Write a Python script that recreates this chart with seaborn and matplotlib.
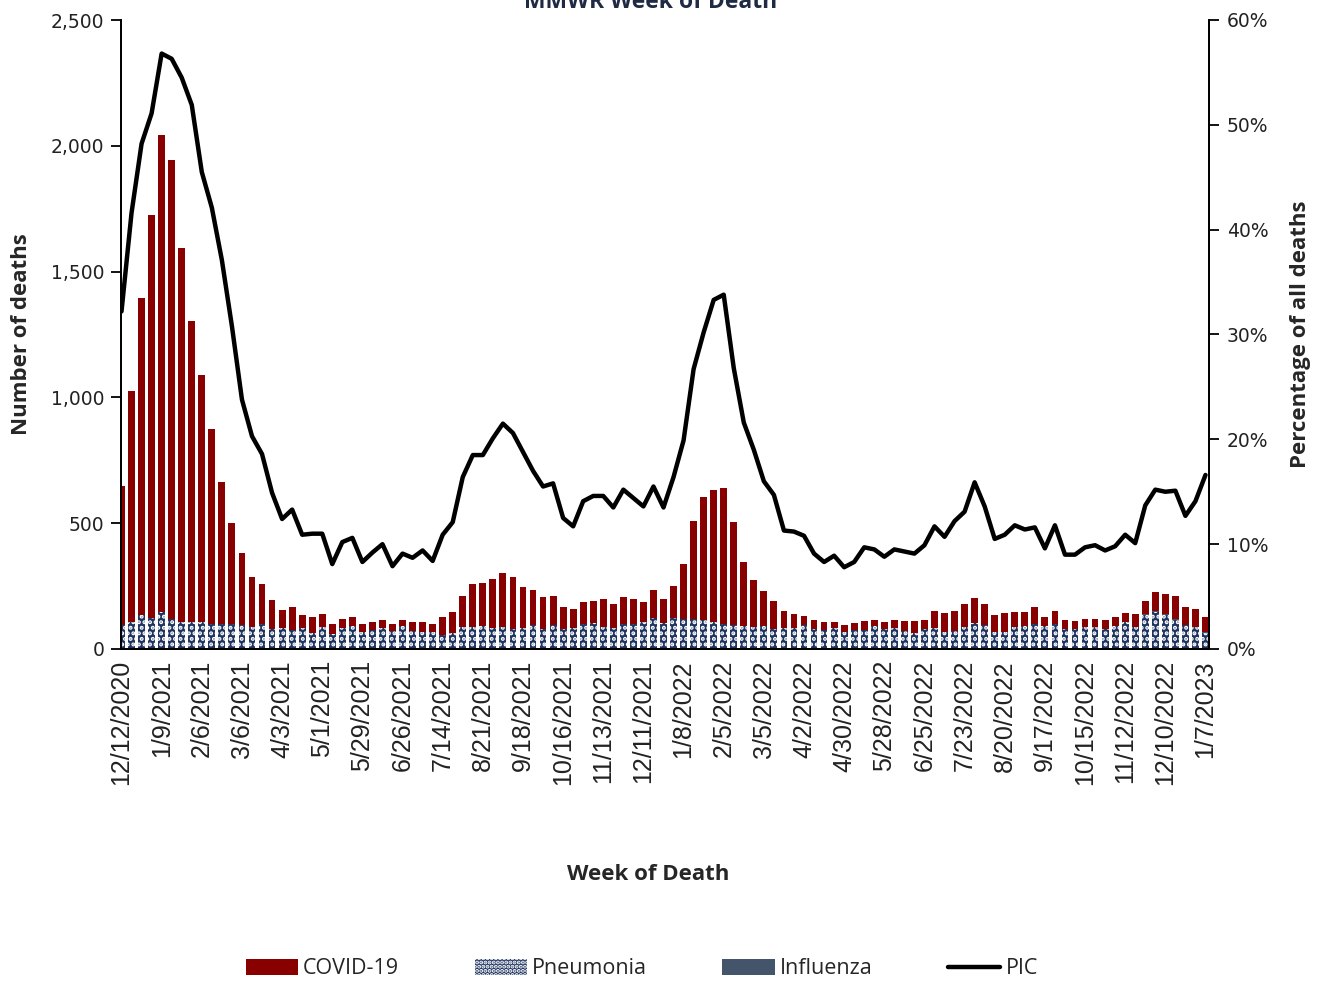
import matplotlib
matplotlib.use('Agg')
import matplotlib.pyplot as plt
import matplotlib.ticker as mticker
from matplotlib.patches import Patch
from matplotlib.lines import Line2D
import seaborn as sns
import pandas as pd
import numpy as np

sns.set_style('white')
plt.rcParams['font.family'] = ['DejaVu Sans']
plt.rcParams['hatch.linewidth'] = 2.0

# ------------------------------------------------------------
# data: weekly deaths (MMWR weeks, 12/12/2020 .. 1/7/2023)
# ------------------------------------------------------------
covid = [
    550, 917, 1260, 1603, 1897, 1825, 1487, 1197, 983, 776,
    561, 399, 285, 196, 156, 115, 70, 89, 51, 65,
    51, 37, 34, 34, 32, 29, 30, 25, 24, 33,
    39, 32, 70, 81, 122, 168, 171, 195, 215, 207,
    163, 139, 129, 114, 86, 77, 85, 90, 109, 93,
    105, 99, 81, 112, 96, 128, 220, 390, 491, 524,
    541, 409, 255, 184, 138, 111, 66, 55, 38, 34,
    30, 22, 26, 26, 35, 26, 31, 29, 39, 46,
    34, 66, 78, 78, 90, 101, 85, 67, 74, 57,
    55, 70, 36, 50, 34, 30, 31, 29, 37, 33,
    35, 50, 53, 76, 81, 93, 73, 70, 60,
]
pneumonia = [
    95, 108, 135, 122, 146, 119, 106, 108, 106, 98,
    101, 101, 95, 89, 101, 80, 85, 77, 85, 64,
    87, 61, 85, 93, 69, 77, 85, 73, 91, 73,
    69, 69, 56, 65, 89, 89, 91, 82, 86, 78,
    82, 95, 78, 95, 80, 82, 101, 102, 89, 85,
    101, 99, 107, 122, 103, 124, 119, 119, 114, 109,
    99, 96, 90, 89, 93, 80, 85, 84, 94, 81,
    76, 84, 69, 76, 76, 91, 78, 85, 72, 65,
    81, 85, 66, 73, 89, 103, 94, 69, 69, 89,
    91, 98, 91, 101, 80, 81, 87, 89, 78, 93,
    107, 89, 136, 148, 135, 116, 94, 88, 65,
]
influenza = [
    1, 1, 1, 1, 1, 1, 1, 0, 0, 0,
    0, 0, 0, 0, 0, 0, 0, 0, 0, 0,
    0, 0, 0, 0, 0, 0, 0, 0, 0, 0,
    0, 0, 0, 0, 0, 0, 0, 0, 0, 0,
    0, 0, 0, 0, 0, 0, 0, 0, 0, 0,
    0, 0, 0, 0, 0, 0, 0, 0, 0, 0,
    0, 0, 0, 0, 0, 0, 0, 0, 0, 0,
    0, 0, 0, 0, 0, 0, 0, 0, 0, 0,
    0, 0, 0, 0, 0, 0, 0, 0, 0, 0,
    0, 0, 0, 0, 0, 0, 0, 0, 0, 0,
    0, 0, 2, 3, 3, 2, 1, 1, 1,
]
# PIC: percent of all deaths
pic = [
    32.2, 41.6, 48.2, 51.1, 56.8, 56.3, 54.5, 51.9, 45.5, 42.1,
    37.1, 30.8, 23.8, 20.3, 18.6, 14.9, 12.4, 13.3, 10.9, 11.0,
    11.0, 8.1, 10.2, 10.6, 8.3, 9.2, 10.0, 7.9, 9.1, 8.7,
    9.4, 8.4, 10.9, 12.1, 16.4, 18.5, 18.5, 20.1, 21.5, 20.6,
    18.8, 17.0, 15.5, 15.8, 12.5, 11.7, 14.1, 14.6, 14.6, 13.5,
    15.2, 14.4, 13.6, 15.5, 13.5, 16.4, 19.9, 26.7, 30.2, 33.3,
    33.8, 26.8, 21.6, 19.0, 16.0, 14.7, 11.3, 11.2, 10.8, 9.1,
    8.3, 8.9, 7.8, 8.3, 9.7, 9.5, 8.8, 9.5, 9.3, 9.1,
    9.9, 11.7, 10.7, 12.2, 13.1, 15.9, 13.6, 10.5, 10.9, 11.8,
    11.4, 11.6, 9.6, 11.8, 9.0, 9.0, 9.7, 9.9, 9.4, 9.8,
    10.9, 10.1, 13.7, 15.2, 15.0, 15.1, 12.7, 14.1, 16.6,
]
tick_labels = [
    '12/12/2020', '1/9/2021', '2/6/2021', '3/6/2021', '4/3/2021', '5/1/2021',
    '5/29/2021', '6/26/2021', '7/14/2021', '8/21/2021', '9/18/2021',
    '10/16/2021', '11/13/2021', '12/11/2021', '1/8/2022', '2/5/2022',
    '3/5/2022', '4/2/2022', '4/30/2022', '5/28/2022', '6/25/2022',
    '7/23/2022', '8/20/2022', '9/17/2022', '10/15/2022', '11/12/2022',
    '12/10/2022', '1/7/2023',
]

df = pd.DataFrame({
    'week': np.arange(len(covid)),
    'COVID-19': covid,
    'Pneumonia': pneumonia,
    'Influenza': influenza,
    'PIC': pic,
})
# stacked: pneumonia -> influenza -> covid
df['pn_flu'] = df['Pneumonia'] + df['Influenza']
df['total'] = df['pn_flu'] + df['COVID-19']

c_covid = '#880000'
c_pneu = '#1F3460'
c_flu = '#44546A'

# ------------------------------------------------------------
# plot
# ------------------------------------------------------------
fig = plt.figure(figsize=(13.26, 9.81), dpi=100)
ax = fig.add_axes([121 / 1326, 1 - 649 / 981, 1088 / 1326, 629 / 981])

bw = 0.68
sns.barplot(data=df, x='week', y='total', color=c_covid, saturation=1,
            width=bw, linewidth=0, ax=ax)
sns.barplot(data=df, x='week', y='pn_flu', color=c_flu, saturation=1,
            width=bw, linewidth=0, ax=ax)
sns.barplot(data=df, x='week', y='Pneumonia', color=c_pneu, saturation=1,
            width=bw, linewidth=0, edgecolor='white', hatch='...', ax=ax)

ax.set_ylim(0, 2500)
ax.set_yticks(range(0, 2501, 500))
ax.yaxis.set_major_formatter(mticker.StrMethodFormatter('{x:,.0f}'))
ax.set_xticks(range(0, len(covid), 4))
ax.set_xticklabels(tick_labels, rotation=90, family='Liberation Sans', fontsize=18)
ax.set_xlim(-0.05, 108.35)

ax2 = ax.twinx()
sns.lineplot(data=df, x='week', y='PIC', color='black', linewidth=3.2, ax=ax2)
ax2.set_ylim(0, 60)
ax2.yaxis.set_major_formatter(mticker.FuncFormatter(lambda v, p: f'{v:.0f}%'))
ax2.set_yticks(range(0, 61, 10))
ax2.set_xlim(-0.05, 108.35)

for a in (ax, ax2):
    a.spines['top'].set_visible(False)
    for s in ('left', 'right', 'bottom'):
        a.spines[s].set_color('black')
        a.spines[s].set_linewidth(1.3)
    a.tick_params(axis='both', which='major', direction='out', length=7,
                  width=1.3, color='black', labelsize=13.5, labelcolor='#222222')
    a.grid(False)
ax.tick_params(axis='x', labelsize=18, pad=1)
ax.tick_params(axis='y', left=True, pad=5)
ax2.tick_params(axis='y', right=True, pad=6)

fam = ['Open Sans', 'DejaVu Sans']
lab_font = dict(family=fam, weight='bold', fontsize=16)
ax.set_xlabel('Week of Death', **lab_font)
ax.set_ylabel('Number of deaths', **lab_font)
ax2.set_ylabel('Percentage of all deaths', rotation=90, **lab_font)
ax.xaxis.set_label_coords(0.485, -0.342)
ax.yaxis.set_label_coords(-0.082, 0.5)
ax2.yaxis.set_label_coords(1.0745, 0.5)

fig.text(0.491, 1 - 8 / 981, 'MMWR Week of Death', ha='center', va='baseline',
         family=fam, weight='bold', fontsize=16.5, color='#1F2A44')

handles = [
    Patch(facecolor=c_covid, edgecolor='none', label='COVID-19'),
    Patch(facecolor=c_pneu, edgecolor='white', hatch='....', linewidth=0, label='Pneumonia'),
    Patch(facecolor=c_flu, edgecolor='none', label='Influenza'),
    Line2D([0], [0], color='black', linewidth=3.2, label='PIC'),
]
fig.legend(handles=handles, loc='center', bbox_to_anchor=(0.484, 1 - 969 / 981),
           ncol=4, frameon=False, handlelength=2.42, handleheight=0.7,
           handletextpad=0.25, columnspacing=3.5,
           prop=dict(family=fam, size=15.5))

fig.savefig('out.png', dpi=100)
